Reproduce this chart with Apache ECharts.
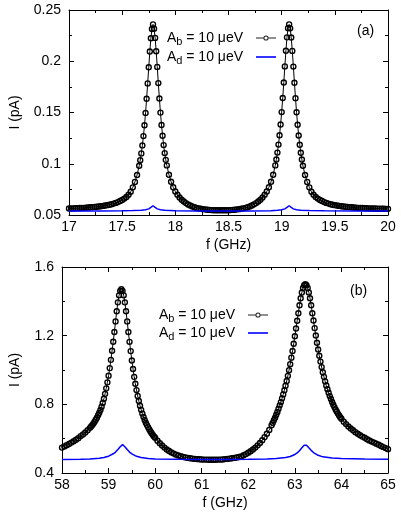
<!DOCTYPE html>
<html lang="en">
<head>
<meta charset="utf-8">
<style>
  html, body { margin: 0; background: #fff; }
  #main { width: 401px; height: 518px; }
</style>
</head>
<body>
<div id="main"></div>
<script src="https://fastly.jsdelivr.net/npm/echarts@6.0.0/dist/echarts.min.js"></script>
<script>
// panel (a): frequency (GHz) and current (pA)
const freqA = [
  17.00, 17.02, 17.04, 17.06, 17.08, 17.10, 17.12, 17.14, 17.16, 17.18,
  17.20, 17.22, 17.24, 17.26, 17.28, 17.30, 17.32, 17.34, 17.36, 17.38,
  17.40, 17.42, 17.44, 17.46, 17.48, 17.50, 17.52, 17.54, 17.56, 17.58,
  17.60, 17.62, 17.64, 17.66, 17.67, 17.68, 17.69, 17.70, 17.71, 17.72,
  17.73, 17.74, 17.75, 17.76, 17.77, 17.78, 17.79, 17.80, 17.81, 17.82,
  17.83, 17.84, 17.85, 17.86, 17.87, 17.88, 17.89, 17.90, 17.91, 17.92,
  17.94, 17.96, 17.98, 18.00, 18.02, 18.04, 18.06, 18.08, 18.10, 18.12,
  18.14, 18.16, 18.18, 18.20, 18.22, 18.24, 18.26, 18.28, 18.30, 18.32,
  18.34, 18.36, 18.38, 18.40, 18.42, 18.44, 18.46, 18.48, 18.50, 18.52,
  18.54, 18.56, 18.58, 18.60, 18.62, 18.64, 18.66, 18.68, 18.70, 18.72,
  18.74, 18.76, 18.78, 18.80, 18.82, 18.84, 18.86, 18.88, 18.90, 18.92,
  18.94, 18.95, 18.96, 18.97, 18.98, 18.99, 19.00, 19.01, 19.02, 19.03,
  19.04, 19.05, 19.06, 19.07, 19.08, 19.09, 19.10, 19.11, 19.12, 19.13,
  19.14, 19.15, 19.16, 19.17, 19.18, 19.19, 19.20, 19.22, 19.24, 19.26,
  19.28, 19.30, 19.32, 19.34, 19.36, 19.38, 19.40, 19.42, 19.44, 19.46,
  19.48, 19.50, 19.52, 19.54, 19.56, 19.58, 19.60, 19.62, 19.64, 19.66,
  19.68, 19.70, 19.72, 19.74, 19.76, 19.78, 19.80, 19.82, 19.84, 19.86,
  19.88, 19.90, 19.92, 19.94, 19.96, 19.98, 20.00
];
const bulkA = [
  0.0563, 0.0564, 0.0565, 0.0566, 0.0567, 0.0568, 0.0569, 0.0570, 0.0572, 0.0573,
  0.0575, 0.0577, 0.0579, 0.0581, 0.0583, 0.0586, 0.0589, 0.0592, 0.0596, 0.0600,
  0.0605, 0.0611, 0.0618, 0.0626, 0.0636, 0.0647, 0.0660, 0.0676, 0.0697, 0.0727,
  0.0770, 0.0823, 0.0890, 0.0980, 0.1035, 0.1101, 0.1179, 0.1270, 0.1375, 0.1496,
  0.1634, 0.1784, 0.1942, 0.2095, 0.2225, 0.2315, 0.2360, 0.2318, 0.2228, 0.2098,
  0.1945, 0.1787, 0.1637, 0.1499, 0.1378, 0.1273, 0.1182, 0.1104, 0.1038, 0.0984,
  0.0893, 0.0824, 0.0771, 0.0730, 0.0697, 0.0671, 0.0649, 0.0632, 0.0616, 0.0603,
  0.0593, 0.0583, 0.0576, 0.0569, 0.0565, 0.0561, 0.0557, 0.0555, 0.0551, 0.0550,
  0.0548, 0.0547, 0.0547, 0.0546, 0.0547, 0.0546, 0.0546, 0.0547, 0.0547, 0.0548,
  0.0550, 0.0551, 0.0555, 0.0557, 0.0561, 0.0565, 0.0570, 0.0576, 0.0584, 0.0593,
  0.0604, 0.0616, 0.0632, 0.0649, 0.0671, 0.0697, 0.0730, 0.0771, 0.0824, 0.0893,
  0.0984, 0.1042, 0.1109, 0.1187, 0.1278, 0.1383, 0.1504, 0.1642, 0.1792, 0.1950,
  0.2103, 0.2233, 0.2323, 0.2360, 0.2321, 0.2231, 0.2101, 0.1948, 0.1790, 0.1640,
  0.1502, 0.1381, 0.1276, 0.1185, 0.1107, 0.1041, 0.0980, 0.0890, 0.0823, 0.0770,
  0.0727, 0.0697, 0.0676, 0.0660, 0.0647, 0.0636, 0.0626, 0.0618, 0.0611, 0.0605,
  0.0600, 0.0596, 0.0592, 0.0589, 0.0586, 0.0583, 0.0581, 0.0579, 0.0577, 0.0575,
  0.0573, 0.0572, 0.0570, 0.0569, 0.0568, 0.0567, 0.0566, 0.0565, 0.0564, 0.0563,
  0.0563, 0.0562, 0.0562, 0.0561, 0.0561, 0.0560, 0.0560
];
const freqDotA = [
  17.00, 17.30, 17.50, 17.60, 17.68, 17.72, 17.75, 17.77, 17.78, 17.79,
  17.80, 17.81, 17.83, 17.86, 17.90, 18.00, 18.20, 18.43, 18.70, 18.90,
  18.96, 19.00, 19.03, 19.05, 19.06, 19.07, 19.08, 19.09, 19.11, 19.14,
  19.18, 19.26, 19.40, 19.70, 20.00
];
const dotA = [
  0.0539, 0.0540, 0.0541, 0.0543, 0.0546, 0.0551, 0.0560, 0.0574, 0.0584, 0.0590,
  0.0584, 0.0574, 0.0560, 0.0551, 0.0546, 0.0542, 0.0540, 0.0539, 0.0540, 0.0542,
  0.0546, 0.0551, 0.0560, 0.0574, 0.0584, 0.0590, 0.0584, 0.0574, 0.0560, 0.0551,
  0.0546, 0.0543, 0.0541, 0.0540, 0.0539
];

// panel (b)
const freqB = [
  58.00, 58.05, 58.10, 58.15, 58.20, 58.25, 58.30, 58.35, 58.40, 58.45,
  58.50, 58.55, 58.600, 58.625, 58.650, 58.675, 58.700, 58.725, 58.750, 58.775,
  58.800, 58.825, 58.850, 58.875, 58.900, 58.925, 58.950, 58.975, 59.000, 59.025,
  59.050, 59.075, 59.100, 59.125, 59.150, 59.175, 59.200, 59.225, 59.250, 59.275,
  59.300, 59.325, 59.350, 59.375, 59.400, 59.425, 59.450, 59.475, 59.500, 59.525,
  59.550, 59.575, 59.600, 59.625, 59.650, 59.675, 59.700, 59.725, 59.750, 59.775,
  59.800, 59.825, 59.850, 59.875, 59.900, 59.925, 59.950, 59.975, 60.000, 60.05,
  60.10, 60.15, 60.20, 60.25, 60.30, 60.35, 60.40, 60.45, 60.50, 60.55,
  60.60, 60.65, 60.70, 60.75, 60.80, 60.85, 60.90, 60.95, 61.00, 61.05,
  61.10, 61.15, 61.20, 61.25, 61.30, 61.35, 61.40, 61.45, 61.50, 61.55,
  61.60, 61.65, 61.70, 61.75, 61.80, 61.85, 61.90, 61.95, 62.00, 62.05,
  62.10, 62.15, 62.20, 62.25, 62.30, 62.35, 62.40, 62.45, 62.500, 62.525,
  62.550, 62.575, 62.600, 62.625, 62.650, 62.675, 62.700, 62.725, 62.750, 62.775,
  62.800, 62.825, 62.850, 62.875, 62.900, 62.925, 62.950, 62.975, 63.000, 63.025,
  63.050, 63.075, 63.100, 63.125, 63.150, 63.175, 63.200, 63.225, 63.250, 63.275,
  63.300, 63.325, 63.350, 63.375, 63.400, 63.425, 63.450, 63.475, 63.500, 63.525,
  63.550, 63.575, 63.600, 63.625, 63.650, 63.675, 63.700, 63.725, 63.750, 63.775,
  63.800, 63.825, 63.850, 63.875, 63.900, 63.925, 63.950, 63.975, 64.000, 64.05,
  64.10, 64.15, 64.20, 64.25, 64.30, 64.35, 64.40, 64.45, 64.50, 64.55,
  64.60, 64.65, 64.70, 64.75, 64.80, 64.85, 64.90, 64.95, 65.00
];
const bulkB = [
  0.548, 0.555, 0.562, 0.569, 0.577, 0.585, 0.594, 0.603, 0.615, 0.625,
  0.636, 0.649, 0.663, 0.671, 0.679, 0.689, 0.699, 0.710, 0.722, 0.736,
  0.751, 0.767, 0.786, 0.808, 0.833, 0.861, 0.893, 0.928, 0.967, 1.011,
  1.059, 1.112, 1.165, 1.221, 1.283, 1.342, 1.394, 1.435, 1.461, 1.470,
  1.461, 1.435, 1.394, 1.342, 1.283, 1.221, 1.164, 1.110, 1.055, 1.006,
  0.960, 0.920, 0.883, 0.849, 0.819, 0.792, 0.768, 0.746, 0.727, 0.709,
  0.693, 0.679, 0.666, 0.654, 0.642, 0.632, 0.622, 0.613, 0.605, 0.588,
  0.573, 0.560, 0.548, 0.537, 0.528, 0.520, 0.513, 0.507, 0.502, 0.498,
  0.494, 0.491, 0.488, 0.486, 0.484, 0.482, 0.481, 0.480, 0.479, 0.478,
  0.478, 0.477, 0.477, 0.477, 0.477, 0.478, 0.478, 0.479, 0.481, 0.482,
  0.484, 0.486, 0.488, 0.490, 0.493, 0.497, 0.503, 0.510, 0.518, 0.527,
  0.537, 0.548, 0.561, 0.575, 0.591, 0.609, 0.629, 0.651, 0.678, 0.692,
  0.707, 0.722, 0.739, 0.756, 0.775, 0.794, 0.813, 0.835, 0.858, 0.882,
  0.908, 0.936, 0.966, 0.999, 1.034, 1.072, 1.111, 1.153, 1.197, 1.242,
  1.287, 1.331, 1.377, 1.418, 1.452, 1.478, 1.494, 1.500, 1.494, 1.478,
  1.452, 1.418, 1.377, 1.331, 1.288, 1.244, 1.201, 1.159, 1.119, 1.083,
  1.049, 1.017, 0.987, 0.960, 0.934, 0.910, 0.888, 0.868, 0.848, 0.831,
  0.814, 0.798, 0.784, 0.770, 0.758, 0.746, 0.735, 0.725, 0.716, 0.699,
  0.685, 0.671, 0.659, 0.649, 0.638, 0.629, 0.620, 0.612, 0.605, 0.597,
  0.590, 0.583, 0.577, 0.571, 0.565, 0.557, 0.551, 0.545, 0.539
];
const freqDotB = [
  58.0, 58.4, 58.6, 58.8, 58.9, 59.0, 59.1, 59.15, 59.2, 59.25,
  59.28, 59.3, 59.32, 59.35, 59.4, 59.45, 59.5, 59.6, 59.7, 59.85,
  60.0, 60.5, 61.0, 61.5, 62.0, 62.4, 62.6, 62.8, 62.9, 63.0,
  63.05, 63.1, 63.15, 63.2, 63.22, 63.25, 63.3, 63.35, 63.4, 63.5,
  63.6, 63.8, 64.0, 64.5, 65.0
];
const dotB = [
  0.478, 0.480, 0.482, 0.486, 0.490, 0.498, 0.512, 0.522, 0.537, 0.553,
  0.562, 0.565, 0.562, 0.553, 0.537, 0.522, 0.511, 0.497, 0.490, 0.485,
  0.482, 0.480, 0.479, 0.479, 0.480, 0.482, 0.485, 0.490, 0.496, 0.508,
  0.517, 0.530, 0.547, 0.562, 0.567, 0.562, 0.547, 0.532, 0.519, 0.503,
  0.494, 0.487, 0.484, 0.481, 0.480
];

const xTicksA = [17, 20, 0.5];
const yTicksA = [0.05, 0.25, 0.05];
const xTicksB = [58, 65, 1];
const yTicksB = [0.4, 1.6, 0.4];
const legendNames = { Ab: 'b', Ad: 'd' };

const FONT = '"Liberation Sans", Arial, sans-serif';

// legend keys: thin line with a small ring, and a plain blue line
const ICON_BULK = 'path://M0,2.5 L7.4,2.5 L7.4,3.5 L0,3.5 Z M12.6,2.5 L20,2.5 L20,3.5 L12.6,3.5 Z ' +
  'M7.4,3 A2.6,2.6 0 1 1 12.6,3 A2.6,2.6 0 1 1 7.4,3 Z M8.4,3 A1.6,1.6 0 1 0 11.6,3 A1.6,1.6 0 1 0 8.4,3 Z';
const ICON_DOT = 'path://M0,0 L20,0 L20,1.6 L0,1.6 Z';

function pairs(xs, ys) {
  return xs.map(function (x, i) { return [x, ys[i]]; });
}

function axis(gridIndex, range, position, extra) {
  return Object.assign({
    type: 'value',
    gridIndex: gridIndex,
    position: position,
    min: range[0],
    max: range[1],
    interval: range[2],
    axisLine: { show: true, onZero: false, lineStyle: { color: '#000', width: 1 } },
    axisTick: { show: true, inside: true, length: 5, lineStyle: { color: '#000' } },
    minorTick: { show: true, splitNumber: 2, length: 3, lineStyle: { color: '#000' } },
    splitLine: { show: false },
    axisLabel: { show: false }
  }, extra || {});
}

const labelStyle = { show: true, color: '#000', fontSize: 14, fontFamily: FONT, margin: 5 };
const nameStyle = { color: '#000', fontSize: 14, fontFamily: FONT };

function bulkSeries(idx, data) {
  return {
    type: 'line', name: 'Ab', xAxisIndex: idx, yAxisIndex: idx, data: data,
    symbol: 'circle', symbolSize: 5, showAllSymbol: true,
    lineStyle: { color: '#000', width: 1 },
    itemStyle: { color: 'rgba(255,255,255,0)', borderColor: '#000', borderWidth: 1.4 },
    emphasis: { disabled: true }, z: 2
  };
}
function dotSeries(idx, data) {
  return {
    type: 'line', name: 'Ad', xAxisIndex: idx, yAxisIndex: idx, data: data,
    symbol: 'none', lineStyle: { color: '#0000ff', width: 1.5 },
    itemStyle: { color: '#0000ff' },
    emphasis: { disabled: true }, z: 3
  };
}
function legend(right, top, gap) {
  return {
    orient: 'vertical', right: right, top: top, align: 'right',
    itemGap: gap, itemWidth: 20, itemHeight: 6, selectedMode: false,
    data: [
      { name: 'Ab', icon: ICON_BULK, itemStyle: { color: '#222', borderWidth: 0 } },
      { name: 'Ad', icon: ICON_DOT, itemStyle: { color: '#0000ff', borderWidth: 0 } }
    ],
    formatter: function (name) {
      return '{t|A}{s|' + legendNames[name] + '}{t| = 10 μeV}{g|}';
    },
    textStyle: {
      color: '#000', fontSize: 14, fontFamily: FONT,
      rich: {
        t: { fontSize: 14, fontFamily: FONT, color: '#000', lineHeight: 18 },
        s: { fontSize: 11, fontFamily: FONT, color: '#000', lineHeight: 9, verticalAlign: 'bottom' },
        g: { width: 8 }
      }
    }
  };
}

const chart = echarts.init(document.getElementById('main'), null, { renderer: 'canvas' });
chart.setOption({
  animation: false,
  backgroundColor: '#fff',
  grid: [
    { left: 69, top: 10, width: 319, height: 205, outerBoundsMode: 'none' },
    { left: 62, top: 267, width: 326, height: 206, outerBoundsMode: 'none' }
  ],
  xAxis: [
    axis(0, xTicksA, 'bottom', { axisLabel: labelStyle, name: 'f (GHz)', nameLocation: 'middle', nameGap: 23, nameTextStyle: nameStyle }),
    axis(0, xTicksA, 'top'),
    axis(1, xTicksB, 'bottom', { axisLabel: labelStyle, name: 'f (GHz)', nameLocation: 'middle', nameGap: 23, nameTextStyle: nameStyle }),
    axis(1, xTicksB, 'top')
  ],
  yAxis: [
    axis(0, yTicksA, 'left', { axisLabel: Object.assign({}, labelStyle, { margin: 8 }), name: 'I (pA)', nameLocation: 'middle', nameGap: 47, nameRotate: 90, nameTextStyle: nameStyle }),
    axis(0, yTicksA, 'right'),
    axis(1, yTicksB, 'left', { axisLabel: Object.assign({}, labelStyle, { margin: 8 }), name: 'I (pA)', nameLocation: 'middle', nameGap: 40, nameRotate: 90, nameTextStyle: nameStyle }),
    axis(1, yTicksB, 'right')
  ],
  legend: [legend(120, 26, 3), legend(128, 303, 2)],
  graphic: [
    { type: 'text', left: 357, top: 24, style: { text: '(a)', font: '14px ' + FONT, fill: '#000' } },
    { type: 'text', left: 350, top: 284, style: { text: '(b)', font: '14px ' + FONT, fill: '#000' } }
  ],
  series: [
    bulkSeries(0, pairs(freqA, bulkA)),
    dotSeries(0, pairs(freqDotA, dotA)),
    bulkSeries(2, pairs(freqB, bulkB)),
    dotSeries(2, pairs(freqDotB, dotB))
  ]
});
</script>
</body>
</html>
